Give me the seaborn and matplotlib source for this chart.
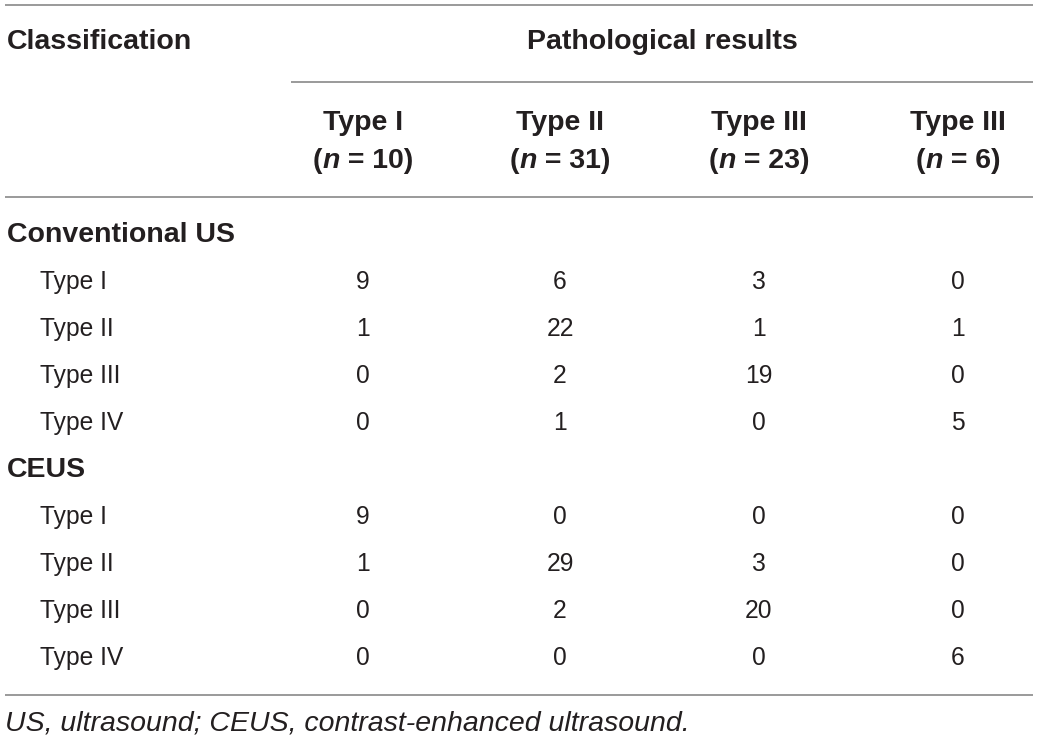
import matplotlib
matplotlib.use("Agg")
import matplotlib.pyplot as plt
import seaborn as sns
from matplotlib.offsetbox import TextArea, HPacker, AnnotationBbox

sns.set_theme(style="white")
plt.rcParams['font.family'] = ['Liberation Sans', 'DejaVu Sans']

# table content
col_types = ["Type I", "Type II", "Type III", "Type III"]
col_n = ["10", "31", "23", "6"]
row_types = ["Type I", "Type II", "Type III", "Type IV"]
groups = ["Conventional US", "CEUS"]
conventional_us = [
    [9, 6, 3, 0],
    [1, 22, 1, 1],
    [0, 2, 19, 0],
    [0, 1, 0, 5],
]
ceus = [
    [9, 0, 0, 0],
    [1, 29, 3, 0],
    [0, 2, 20, 0],
    [0, 0, 0, 6],
]
footnote = "US, ultrasound; CEUS, contrast-enhanced ultrasound."

W, H = 1039, 741
fig = plt.figure(figsize=(W / 100, H / 100), dpi=100)
ax = fig.add_axes([0, 0, 1, 1])
ax.set_xlim(0, W)
ax.set_ylim(H, 0)
ax.axis("off")

ink = "#231f20"
rule = "#9a9a9a"
bold_size = 20.5
body_size = 17.7

col_x = [363, 560, 759, 958]
row_step = 47

# rules
for y, x0 in [(5, 5), (82, 291), (197, 5), (695, 5)]:
    ax.plot([x0, 1033], [y, y], color=rule, lw=1.4, solid_capstyle="butt")

ax.text(7, 42, "Classification", fontsize=bold_size, fontweight="bold",
        color=ink, va="center", ha="left")
ax.text(662, 42, "Pathological results", fontsize=bold_size, fontweight="bold",
        color=ink, va="center", ha="center")

for x, t, n in zip(col_x, col_types, col_n):
    ax.text(x, 123, t, fontsize=bold_size, fontweight="bold", color=ink,
            va="center", ha="center")
    props = dict(fontsize=bold_size, fontweight="bold", color=ink)
    parts = [TextArea("(", textprops=props),
             TextArea("n", textprops=dict(props, style="italic")),
             TextArea(" = " + n + ")", textprops=props)]
    box = HPacker(children=parts, align="baseline", pad=0, sep=0)
    ab = AnnotationBbox(box, (x, 161), xycoords="data", frameon=False,
                        box_alignment=(0.5, 0.5), pad=0)
    ax.add_artist(ab)

y = 235
for g, data in zip(groups, [conventional_us, ceus]):
    ax.text(7, y, g, fontsize=bold_size, fontweight="bold", color=ink,
            va="center", ha="left")
    y += row_step
    for label, vals in zip(row_types, data):
        ax.text(40, y, label, fontsize=body_size, color=ink, va="center", ha="left")
        for x, v in zip(col_x, vals):
            ax.text(x, y, str(v), fontsize=body_size, color=ink,
                    va="center", ha="center")
        y += row_step

ax.text(5, 723, footnote, fontsize=20.5, style="italic", color=ink,
        va="center", ha="left")

fig.savefig("out.png", dpi=100)
